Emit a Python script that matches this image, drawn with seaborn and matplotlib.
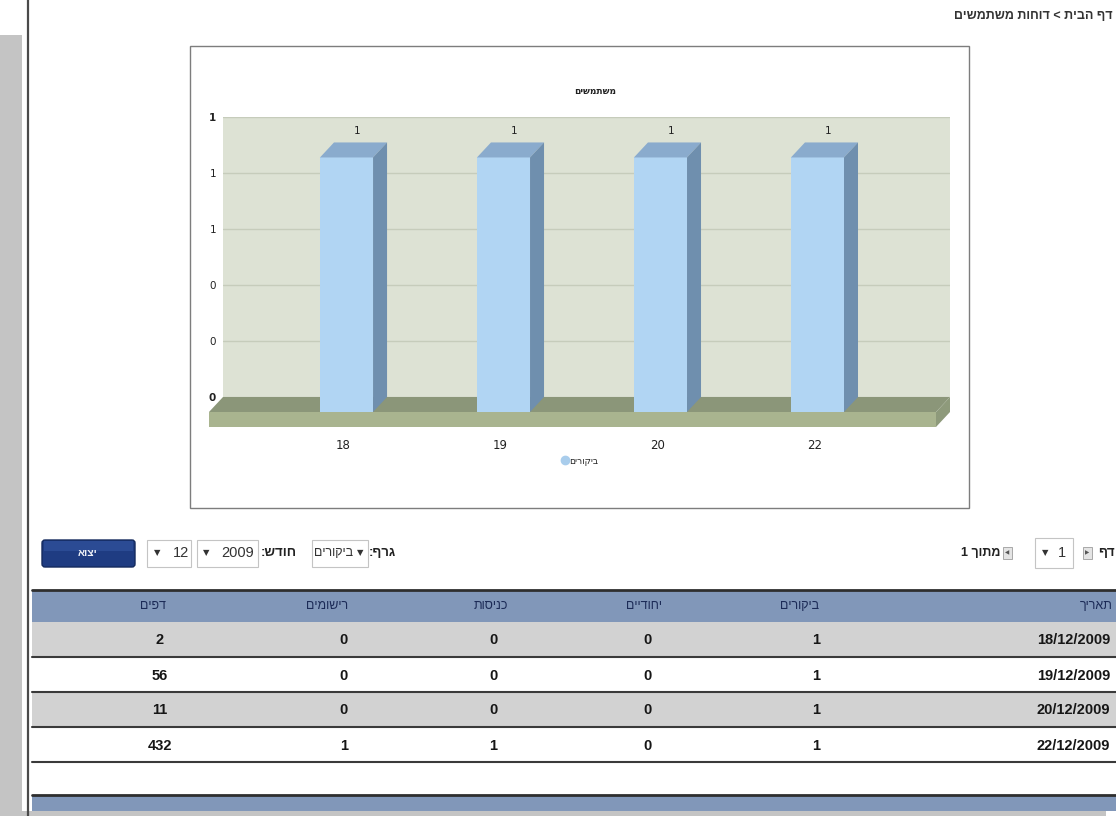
import numpy as np
import matplotlib
matplotlib.use("Agg")
import matplotlib.pyplot as plt
from matplotlib.patches import Rectangle, Polygon, FancyBboxPatch
from matplotlib.transforms import Affine2D, IdentityTransform
from matplotlib.ticker import FormatStrFormatter
from matplotlib.lines import Line2D
from matplotlib import font_manager as fm
import seaborn as sns

# ---------------- data ----------------
chart_title = "משתמשים"
series_name = "ביקורים"
days = ["18", "19", "20", "22"]
visits = [1, 1, 1, 1]
y_max = 1.1

headers = ["תאריך", "ביקורים", "יחודיים", "כניסות", "רישומים", "דפים"]
dates = ["18/12/2009", "19/12/2009", "20/12/2009", "22/12/2009"]
unique_visits = [0, 0, 0, 0]
entries = [0, 0, 0, 1]
registrations = [0, 0, 0, 1]
pages = [2, 56, 11, 432]

breadcrumb = "דף הבית > דוחות משתמשים"
graph_label = "גרף:"
month_label = "חודש:"
export_label = "יצוא"
year_value = "2009"
month_value = "12"
page_of = "מתוך 1"
page_label = "דף"
page_value = "1"


def rtl(s):
    """visual order for right-to-left text"""
    out = s[::-1]
    return out.replace(">", "\u0001").replace("<", ">").replace("\u0001", "<")


sns.set_style("white")
plt.rcParams["font.family"] = ["DejaVu Sans"]
names = {f.name for f in fm.fontManager.ttflist}
if "Liberation Sans Narrow" in names:
    NARROW = ["Liberation Sans Narrow", "Liberation Sans", "DejaVu Sans"]
    TS = 11.5
else:
    NARROW = ["Liberation Sans", "DejaVu Sans"]
    TS = 10.5

W, H = 1116, 816
fig = plt.figure(figsize=(W / 100, H / 100), dpi=100)
fig.patch.set_facecolor("white")

# page layer in pixel coordinates
pg = fig.add_axes([0, 0, 1, 1], zorder=0)
pg.set_xlim(0, W)
pg.set_ylim(H, 0)
pg.axis("off")

# page frame
pg.add_patch(Rectangle((0, 35), 22, H - 35, fc="#c4c4c4", ec="none"))
pg.add_patch(Rectangle((0, 811), 1106, 5, fc="#c4c4c4", ec="none"))
pg.axvline(27.5, color="#4a4a4a", lw=1.6)

# breadcrumb
pg.text(1113, 16, rtl(breadcrumb), ha="right", va="center", fontsize=9,
        fontweight="bold", color="#333333", family=NARROW)

# chart box
pg.add_patch(Rectangle((190, 46), 779, 462, fc="white", ec="#7d7d7d", lw=1))
pg.text(595, 92, rtl(chart_title), ha="center", va="center", fontsize=6.5,
        fontweight="bold", color="#222222")

# ---------------- chart ----------------
wall = "#dde2d4"
bar_front = "#b1d5f3"
bar_top = "#8aabcd"
bar_side = "#6f8fae"

ax = fig.add_axes([223 / W, 1 - 397 / H, 727 / W, 280 / H], zorder=2)
ax.set_facecolor(wall)
sns.barplot(x=days, y=visits, ax=ax, color=bar_front, saturation=1,
            width=0.338, errorbar=None, linewidth=0, zorder=3)
ax.set_xlim(-0.876, 3.755)
ax.set_ylim(0, y_max)
ax.set_xlabel("")
ax.set_ylabel("")
ax.set_xticks([])
ax.set_yticks(np.linspace(0, y_max, 6))
ax.yaxis.set_major_formatter(FormatStrFormatter("%.0f"))
ax.tick_params(axis="y", length=0, pad=5, labelsize=7.5, labelcolor="#222222")
for sp in ax.spines.values():
    sp.set_visible(False)
ax.grid(axis="y", color="#c6ccbb", lw=1)
ax.set_axisbelow(True)
fig.canvas.draw()
ytl = ax.get_yticklabels()
ytl[0].set_fontweight("bold")
ytl[-1].set_fontweight("bold")

DX, DY, FT = 14, 15, 15
shift = Affine2D().translate(-DX, -DY)

# floor
blx, bly = ax.transAxes.transform((0, 0))
brx, bry = ax.transAxes.transform((1, 0))
floor_top = [(blx, bly), (brx, bry), (brx - DX, bry - DY), (blx - DX, bly - DY)]
floor_front = [(blx - DX, bly - DY), (brx - DX, bry - DY), (brx - DX, bry - DY - FT), (blx - DX, bly - DY - FT)]
floor_side = [(brx, bry), (brx - DX, bry - DY), (brx - DX, bry - DY - FT), (brx, bry - FT)]
for poly, col in [(floor_top, "#8b9679"), (floor_front, "#a9b48f"), (floor_side, "#8e9a7b")]:
    ax.add_patch(Polygon(poly, closed=True, transform=IdentityTransform(), fc=col,
                         ec="none", zorder=2, clip_on=False))

# 3D bars
for p, v, d in zip(list(ax.patches[:len(visits)]), visits, days):
    x0, w, h = p.get_x(), p.get_width(), p.get_height()
    ax0, ay0 = ax.transData.transform((x0, 0))
    ax1, ay1 = ax.transData.transform((x0 + w, h))
    p.set_transform(ax.transData + shift)
    p.set_clip_on(False)
    top = [(ax0, ay1), (ax1, ay1), (ax1 - DX, ay1 - DY), (ax0 - DX, ay1 - DY)]
    side = [(ax1, ay1), (ax1, ay0), (ax1 - DX, ay0 - DY), (ax1 - DX, ay1 - DY)]
    ax.add_patch(Polygon(top, closed=True, transform=IdentityTransform(), fc=bar_top,
                         ec="none", zorder=3, clip_on=False))
    ax.add_patch(Polygon(side, closed=True, transform=IdentityTransform(), fc=bar_side,
                         ec="none", zorder=3, clip_on=False))
    cx = x0 + w / 2
    ax.annotate(f"{v:.0f}", xy=(cx, h), xytext=(-3.5 * 0.72, 11 * 0.72),
                textcoords="offset points", ha="center", va="center",
                fontsize=7.5, color="#222222", annotation_clip=False)
    ax.annotate(d, xy=(cx, 0), xytext=(-17 * 0.72, -48 * 0.72),
                textcoords="offset points", ha="center", va="center",
                fontsize=8.5, color="#222222", annotation_clip=False)

# legend
fig.legend(handles=[Line2D([], [], marker="o", ls="", color="#a9cdec", markersize=6)],
           labels=[rtl(series_name)], loc="center", bbox_to_anchor=(579 / W, 1 - 461 / H),
           frameon=False, fontsize=6.5, handletextpad=0.0, borderpad=0, handlelength=1.0)

# ---------------- controls ----------------
yc = 553
pg.add_patch(FancyBboxPatch((42, 540), 93, 27, boxstyle="round,pad=0,rounding_size=3",
                            fc="#1f3c82", ec="#142a5e", lw=1))
pg.add_patch(Rectangle((44, 541), 89, 10, fc="#2b4b94", ec="none"))
pg.text(88, yc, rtl(export_label), ha="center", va="center", fontsize=7.5,
        fontweight="bold", color="#eef1f8", family=NARROW)

for (x, w) in [(147, 44), (197, 61), (312, 56)]:
    pg.add_patch(Rectangle((x, 540), w, 27, fc="white", ec="#c4c4c4", lw=0.8))
pg.text(157, yc, "▼", ha="center", va="center", fontsize=6, color="#333333")
pg.text(181, yc, month_value, ha="center", va="center", fontsize=TS, color="#333333", family=NARROW)
pg.text(206, yc, "▼", ha="center", va="center", fontsize=6, color="#333333")
pg.text(238, yc, year_value, ha="center", va="center", fontsize=TS, color="#333333", family=NARROW)
pg.text(279, yc, rtl(month_label), ha="center", va="center", fontsize=TS - 1,
        fontweight="bold", color="#222222", family=NARROW)
pg.text(334, yc, rtl(series_name), ha="center", va="center", fontsize=TS - 1.5, color="#333333", family=NARROW)
pg.text(360, yc, "▼", ha="center", va="center", fontsize=6, color="#333333")
pg.text(382, yc, rtl(graph_label), ha="center", va="center", fontsize=TS - 1,
        fontweight="bold", color="#222222", family=NARROW)

pg.text(981, yc, rtl(page_of), ha="center", va="center", fontsize=TS - 1.5,
        fontweight="bold", color="#222222", family=NARROW)
pg.add_patch(Rectangle((1003, 547), 9, 12, fc="#e4e4e4", ec="#a8a8a8", lw=0.7))
pg.text(1007.5, yc, "◀", ha="center", va="center", fontsize=4, color="#555555")
pg.add_patch(Rectangle((1035, 538), 38, 30, fc="white", ec="#c4c4c4", lw=0.8))
pg.text(1045, yc, "▼", ha="center", va="center", fontsize=6, color="#333333")
pg.text(1062, yc, page_value, ha="center", va="center", fontsize=TS, color="#333333", family=NARROW)
pg.add_patch(Rectangle((1083, 547), 9, 12, fc="#e4e4e4", ec="#a8a8a8", lw=0.7))
pg.text(1087.5, yc, "▶", ha="center", va="center", fontsize=4, color="#555555")
pg.text(1115, yc, rtl(page_label), ha="right", va="center", fontsize=TS - 1,
        fontweight="bold", color="#222222", family=NARROW)

# ---------------- table ----------------
head_bg = "#8197b9"
row_bg = "#d2d2d2"
pg.add_patch(Rectangle((32, 591), W - 32, 31, fc=head_bg, ec="none"))
pg.plot([32, W], [590, 590], color="#2e2e2e", lw=2)

head_x = [1113, 800, 644, 491, 327, 153]
data_x = [1110, 816, 648, 493, 344, 160]
aligns = ["right", "center", "center", "center", "center", "center"]
for hx, htxt, al in zip(head_x, headers, aligns):
    pg.text(hx, 606, rtl(htxt), ha=al, va="center", fontsize=TS - 1.5,
            color="#1c2b57", family=NARROW)

columns = [dates, visits, unique_visits, entries, registrations, pages]
row_top = 622
row_h = 35
for r in range(len(dates)):
    y0 = row_top + r * row_h
    if r % 2 == 0:
        pg.add_patch(Rectangle((32, y0), W - 32, row_h, fc=row_bg, ec="none"))
    pg.plot([32, W], [y0 + row_h, y0 + row_h], color="#3a3a3a", lw=1.5)
    for cx, col, al in zip(data_x, columns, aligns):
        pg.text(cx, y0 + row_h / 2 + 1, str(col[r]), ha=al, va="center", fontsize=TS,
                fontweight="bold", color="#161616", family=NARROW)

pg.plot([32, W], [795, 795], color="#2e2e2e", lw=2)
pg.add_patch(Rectangle((32, 796), W - 32, 15, fc=head_bg, ec="none"))

fig.savefig("out.png", dpi=100, facecolor="white")
